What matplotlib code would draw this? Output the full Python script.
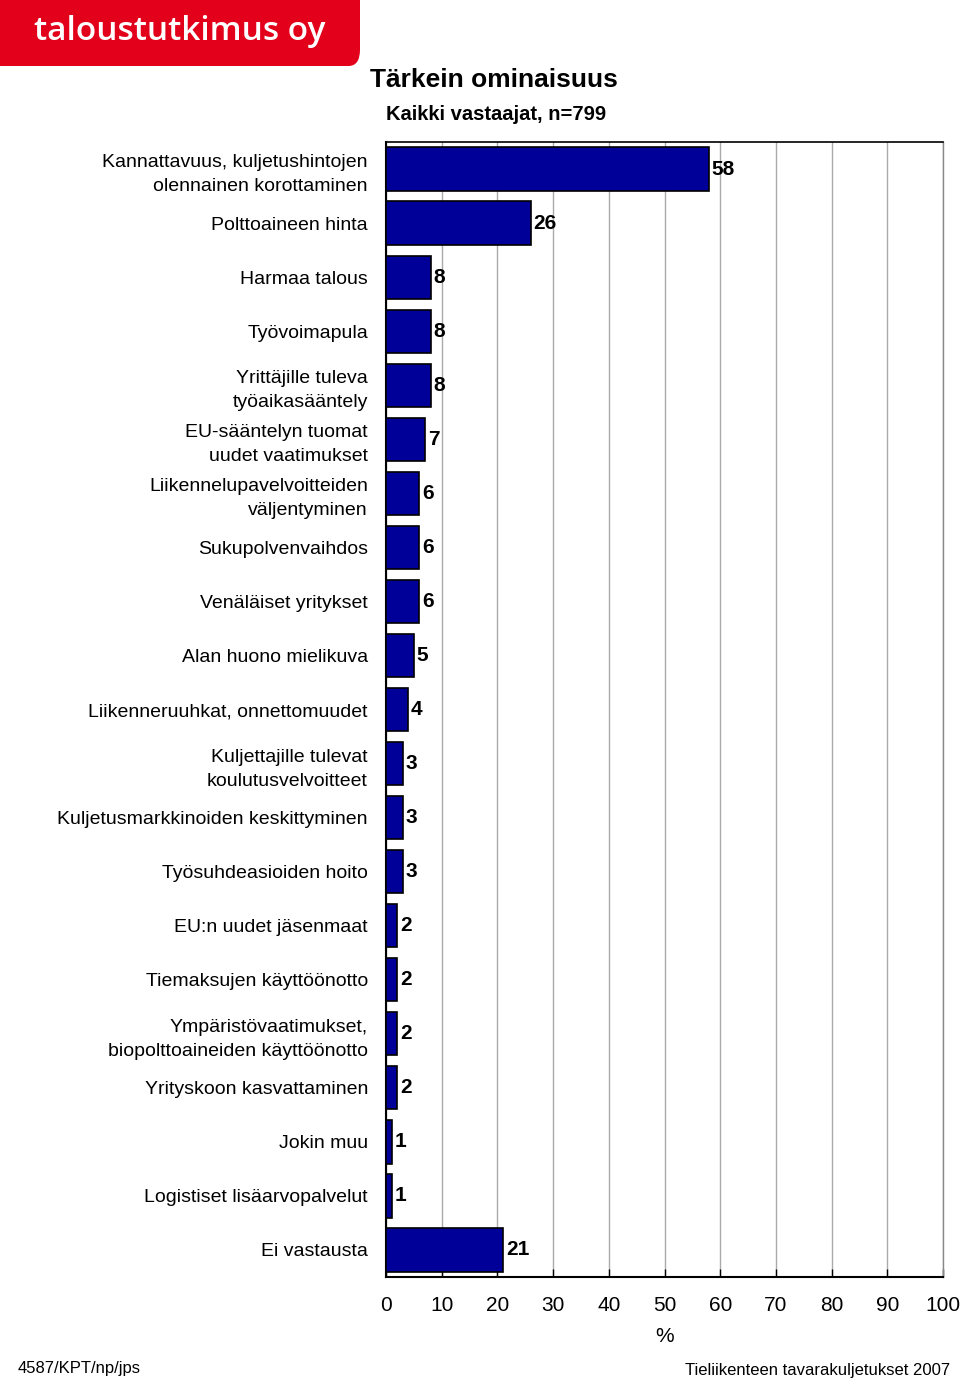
import matplotlib.pyplot as plt
from matplotlib.patches import FancyBboxPatch

labels = ["Kannattavuus, kuljetushintojen\nolennainen korottaminen",
          "Polttoaineen hinta",
          "Harmaa talous",
          "Työvoimapula",
          "Yrittäjille tuleva\ntyöaikasääntely",
          "EU-sääntelyn tuomat\nuudet vaatimukset",
          "Liikennelupavelvoitteiden\nväljentyminen",
          "Sukupolvenvaihdos",
          "Venäläiset yritykset",
          "Alan huono mielikuva",
          "Liikenneruuhkat, onnettomuudet",
          "Kuljettajille tulevat\nkoulutusvelvoitteet",
          "Kuljetusmarkkinoiden keskittyminen",
          "Työsuhdeasioiden hoito",
          "EU:n uudet jäsenmaat",
          "Tiemaksujen käyttöönotto",
          "Ympäristövaatimukset,\nbiopolttoaineiden käyttöönotto",
          "Yrityskoon kasvattaminen",
          "Jokin muu",
          "Logistiset lisäarvopalvelut",
          "Ei vastausta"]
values = [58, 26, 8, 8, 8, 7, 6, 6, 6, 5, 4, 3, 3, 3, 2, 2, 2, 2, 1, 1, 21]
xticks = [0, 10, 20, 30, 40, 50, 60, 70, 80, 90, 100]

plt.rcParams['font.family'] = ['Liberation Sans', 'DejaVu Sans']

fig = plt.figure(figsize=(9.6, 13.82), dpi=100)
ax = fig.add_axes([386/960, 1-1277/1382, 557/960, 1135/1382])

y = list(range(len(values)))
ax.barh(y, values, height=0.8, color='#000099', edgecolor='black', linewidth=1.2, zorder=3)
for yi, v in zip(y, values):
    ax.text(v + 0.5, yi, str(v), va='center', ha='left', fontsize=15, fontweight='bold', zorder=4)

ax.set_ylim(len(values) - 0.5, -0.5)
ax.set_xlim(0, 100)
ax.set_yticks(y)
ax.set_yticklabels(labels, fontsize=14, linespacing=1.55)
ax.tick_params(axis='y', length=0, pad=13)
ax.set_xticks(xticks)
ax.tick_params(axis='x', labelsize=15, length=6, width=1, direction='in', pad=14)
ax.xaxis.grid(True, color='#aaaaaa', linewidth=1, zorder=0)
ax.set_xlabel('%', fontsize=15, labelpad=8)
for side in ['left', 'bottom']:
    ax.spines[side].set_linewidth(1.5)
ax.spines['top'].set_linewidth(1.2)
ax.spines['right'].set_linewidth(1.0)
ax.spines['right'].set_color('#888888')

# logo
logo = FancyBboxPatch((-0.02, 1-66/1382), 360/960 + 0.02, 0.07, boxstyle='round,pad=0,rounding_size=0.012',
                      transform=fig.transFigure, facecolor='#e2001a', edgecolor='none')
fig.patches.append(logo)
fig.text(34/960, 1-31/1382, 'taloustutkimus oy', color='white', fontsize=24, fontweight='semibold',
         family=['Open Sans', 'DejaVu Sans'], va='center', ha='left')

fig.text(370/960, 1-80/1382, 'Tärkein ominaisuus', fontsize=19, fontweight='bold', va='center', ha='left')
fig.text(386/960, 1-115/1382, 'Kaikki vastaajat, n=799', fontsize=14.5, fontweight='bold', va='center', ha='left')

fig.text(18/960, 1-1369/1382, '4587/KPT/np/jps', fontsize=12, va='center', ha='left')
fig.text(950/960, 1-1371/1382, 'Tieliikenteen tavarakuljetukset 2007', fontsize=12, va='center', ha='right')

fig.savefig('out.png', dpi=100)
